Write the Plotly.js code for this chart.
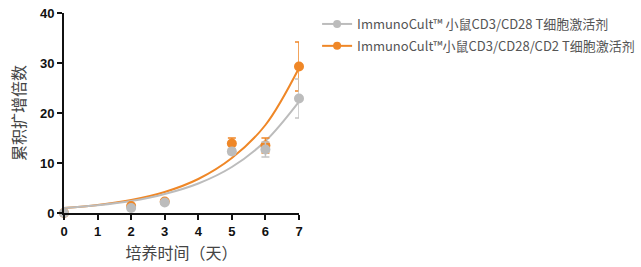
<!DOCTYPE html>
<html>
<head>
<meta charset="utf-8">
<script src="https://cdn.plot.ly/plotly-3.0.1.min.js"></script>
<style>html,body{margin:0;padding:0;background:#fff;}#chart{width:641px;height:267px;}</style>
</head>
<body>
<div id="chart"></div>
<script>
// Measured points
const days = [0, 2, 3, 5, 6, 7];
const grayValues = [0, 1.0, 2.1, 12.3, 12.7, 22.9];
const grayErrors = [0, 0.2, 0.3, 0.6, 1.5, 3.9];
const orangeValues = [0, 1.4, 2.3, 13.9, 13.5, 29.3];
const orangeErrors = [0, 0.2, 0.3, 1.1, 1.5, 4.9];

// Fitted curves
const fitDays = [0, 1, 2, 3, 4, 5, 6, 7];
const grayFit = [1.0, 1.55, 2.4, 3.8, 5.9, 9.2, 14.4, 22.3];
const orangeFit = [1.0, 1.6, 2.6, 4.2, 6.8, 11.0, 17.6, 29.0];

const xTicks = [0, 1, 2, 3, 4, 5, 6, 7];
const yTicks = [0, 10, 20, 30, 40];

const grayName = 'ImmunoCult™ 小鼠CD3/CD28 T细胞激活剂';
const orangeName = 'ImmunoCult™小鼠CD3/CD28/CD2 T细胞激活剂';

const GRAY = '#bcbcbc';
const ORANGE = '#ef8727';

const traces = [
  {x: fitDays, y: orangeFit, mode: 'lines', line: {color: ORANGE, width: 2, shape: 'spline'}, showlegend: false, hoverinfo: 'skip', cliponaxis: false},
  {x: fitDays, y: grayFit, mode: 'lines', line: {color: GRAY, width: 2, shape: 'spline'}, showlegend: false, hoverinfo: 'skip', cliponaxis: false},
  {x: days, y: orangeValues, mode: 'markers', marker: {color: ORANGE, size: 10}, showlegend: false,
   error_y: {type: 'data', array: orangeErrors, color: ORANGE, thickness: 1.5, width: 4},
   cliponaxis: false},
  {x: days, y: grayValues, mode: 'markers', marker: {color: GRAY, size: 10}, showlegend: false,
   error_y: {type: 'data', array: grayErrors, color: '#c4c4c4', thickness: 1.5, width: 4},
   cliponaxis: false},
  // legend entries
  {x: [null], y: [null], name: grayName, legendgroup: 'g', legendrank: 1,
   mode: 'lines+markers', line: {color: GRAY, width: 2}, marker: {color: GRAY, size: 8}},
  {x: [null], y: [null], name: orangeName, legendgroup: 'o', legendrank: 2,
   mode: 'lines+markers', line: {color: ORANGE, width: 2}, marker: {color: ORANGE, size: 8}}
];

const layout = {
  width: 641, height: 267,
  margin: {l: 64, r: 342, t: 13, b: 54, autoexpand: false},
  paper_bgcolor: '#fff', plot_bgcolor: '#fff',
  font: {family: 'Arial, Liberation Sans, sans-serif', color: '#111'},
  xaxis: {
    range: [0, 7], tickvals: xTicks, ticktext: xTicks.map(String),
    showgrid: false, zeroline: false, showline: true, linecolor: '#111', linewidth: 2,
    ticks: 'outside', ticklen: 5, tickwidth: 2, tickcolor: '#111',
    tickfont: {size: 13, color: '#111', family: 'Arial, Liberation Sans, sans-serif', weight: 'bold'},
    title: {text: '培养时间（天）', font: {family: 'Noto Sans CJK SC', size: 16, color: '#444'}, standoff: 10}
  },
  yaxis: {
    range: [0, 40], tickvals: yTicks, ticktext: yTicks.map(String),
    showgrid: false, zeroline: false, showline: true, linecolor: '#111', linewidth: 2,
    ticks: 'outside', ticklen: 5, tickwidth: 2, tickcolor: '#111',
    tickfont: {size: 13, color: '#111', family: 'Arial, Liberation Sans, sans-serif', weight: 'bold'},
    title: {text: '累积扩增倍数', font: {family: 'Noto Sans CJK SC', size: 16, color: '#444'}, standoff: 10}
  },
  showlegend: true,
  legend: {
    x: 1.077, y: 1.02, xanchor: 'left', yanchor: 'top',
    traceorder: 'grouped', tracegroupgap: 2, itemwidth: 30,
    font: {family: 'Noto Sans CJK SC', size: 13, color: '#555'},
    bgcolor: 'rgba(0,0,0,0)'
  }
};

Plotly.newPlot('chart', traces, layout, {displayModeBar: false, staticPlot: true});
</script>
</body>
</html>
